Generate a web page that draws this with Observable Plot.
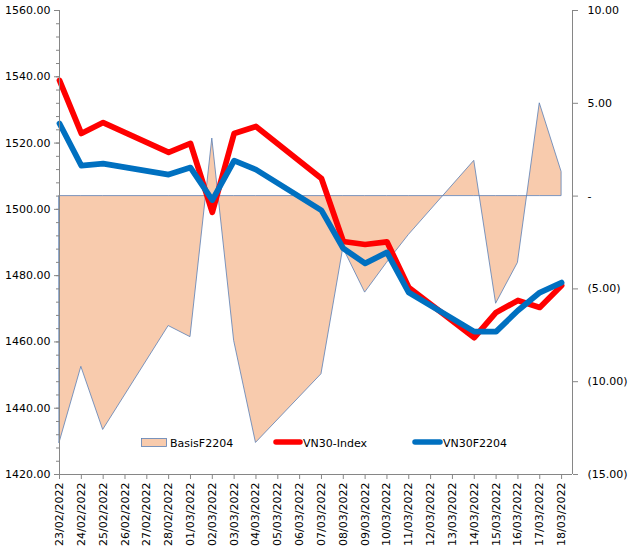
<!DOCTYPE html>
<html>
<head>
<meta charset="utf-8">
<script src="https://cdn.jsdelivr.net/npm/d3@7"></script>
<script src="https://cdn.jsdelivr.net/npm/@observablehq/plot@0.6"></script>
<style>
  html, body { margin: 0; padding: 0; background: #fff; }
  #chart { width: 628px; height: 550px; position: relative; }
</style>
</head>
<body>
<div id="chart"></div>
<script>
// ---- Data ----
const dates = ["2022-02-23","2022-02-24","2022-02-25","2022-02-28","2022-03-01","2022-03-02","2022-03-03","2022-03-04","2022-03-07","2022-03-08","2022-03-09","2022-03-10","2022-03-11","2022-03-14","2022-03-15","2022-03-16","2022-03-17","2022-03-18"];
const vn30Index = [1538.9,1522.9,1526.2,1517.2,1519.9,1499.1,1522.9,1525.0,1509.3,1490.3,1489.4,1490.2,1476.4,1461.3,1468.9,1472.5,1470.4,1477.0];
const vn30F2204 = [1525.9,1513.2,1513.8,1510.5,1512.6,1502.8,1514.7,1512.0,1499.7,1488.2,1483.7,1487.0,1474.9,1463.1,1463.1,1469.5,1474.9,1477.9];
const basisF2204 = [-13.3,-9.2,-12.6,-7.0,-7.6,3.1,-7.8,-13.3,-9.6,-2.8,-5.2,-3.6,-2.1,1.9,-5.8,-3.6,5.0,1.3];

const leftTicks = [1420,1440,1460,1480,1500,1520,1540,1560];
const rightTicks = [-15,-10,-5,0,5,10];
const seriesNames = ["BasisF2204","VN30-Index","VN30F2204"];

// ---- Scales helpers ----
const leftDomain = [1420, 1560];
const rightDomain = [-15, 10];
const toLeft = b => leftDomain[0] + (b - rightDomain[0]) * (leftDomain[1] - leftDomain[0]) / (rightDomain[1] - rightDomain[0]);
const fmtRight = v => v === 0 ? "-" : (v < 0 ? "(" + Math.abs(v).toFixed(2) + ")" : v.toFixed(2));

const parse = d3.utcParse("%Y-%m-%d");
const table = dates.map((d, i) => ({
  date: parse(d),
  idx: vn30Index[i],
  fut: vn30F2204[i],
  basis: basisF2204[i]
}));

const xStart = parse(dates[0]);
const xEnd = new Date(+parse(dates[dates.length - 1]) + 12 * 3600 * 1000);
const dayTicks = d3.utcDay.range(xStart, new Date(+parse(dates[dates.length - 1]) + 86400000));
const minorTicks = d3.range(leftDomain[0], leftDomain[1] + 0.1, 4);
const axisGray = "#868686";

const chart = Plot.plot({
  width: 628,
  height: 550,
  marginLeft: 59,
  marginRight: 56,
  marginTop: 10,
  marginBottom: 76,
  style: { fontFamily: "DejaVu Sans", fontSize: "11px", background: "#fff", color: "#000" },
  x: { type: "utc", domain: [xStart, xEnd] },
  y: { domain: leftDomain },
  marks: [
    Plot.areaY(table, {
      x: "date",
      y1: () => toLeft(0),
      y2: d => toLeft(d.basis),
      fill: "#F8CBAD",
      stroke: "#5A7FB5",
      strokeWidth: 0.8
    }),
    Plot.line(table, { x: "date", y: "idx", stroke: "#FF0000", strokeWidth: 5.75, strokeLinejoin: "round", strokeLinecap: "round" }),
    Plot.line(table, { x: "date", y: "fut", stroke: "#0070C0", strokeWidth: 5.75, strokeLinejoin: "round", strokeLinecap: "round" }),
    // axis lines
    Plot.ruleX([xStart], { stroke: axisGray, strokeWidth: 1 }),
    Plot.ruleX([xEnd], { stroke: axisGray, strokeWidth: 1 }),
    Plot.ruleY([leftDomain[0]], { stroke: axisGray, strokeWidth: 1 }),
    // left axis
    Plot.axisY(minorTicks, { anchor: "left", tickSize: 3, tickFormat: () => "", stroke: axisGray, label: null }),
    Plot.axisY(leftTicks, { anchor: "left", tickSize: 5, tickPadding: 4, tickFormat: d => d.toFixed(2), stroke: axisGray, fill: "#000", label: null }),
    // right axis (basis)
    Plot.axisY(rightTicks.map(toLeft), {
      anchor: "right", tickSize: 5, tickPadding: 10,
      tickFormat: v => fmtRight(Math.round((v - leftDomain[0]) * (rightDomain[1] - rightDomain[0]) / (leftDomain[1] - leftDomain[0]) + rightDomain[0])),
      stroke: axisGray, fill: "#000", label: null
    }),
    // bottom axis
    Plot.axisX(dayTicks, { anchor: "bottom", tickSize: 5, tickPadding: 3, tickRotate: -90, tickFormat: d3.utcFormat("%d/%m/%Y"), stroke: axisGray, fill: "#000", label: null })
  ]
});

document.getElementById("chart").appendChild(chart);

// ---- Legend (inside plot area) ----
const svg = d3.select(chart);
const lg = svg.append("g").attr("font-family", "DejaVu Sans").attr("font-size", 11).attr("text-anchor", "start");
// BasisF2204
lg.append("rect").attr("x", 141.5).attr("y", 438.5).attr("width", 25).attr("height", 8)
  .attr("fill", "#F8CBAD").attr("stroke", "#5A7FB5").attr("stroke-width", 0.8);
lg.append("text").attr("x", 170).attr("y", 446.5).attr("text-anchor", "start").text(seriesNames[0]);
// VN30-Index
lg.append("line").attr("x1", 276).attr("x2", 300).attr("y1", 442).attr("y2", 442)
  .attr("stroke", "#FF0000").attr("stroke-width", 5.5).attr("stroke-linecap", "round");
lg.append("text").attr("x", 303).attr("y", 446.5).attr("text-anchor", "start").text(seriesNames[1]);
// VN30F2204
lg.append("line").attr("x1", 415).attr("x2", 440).attr("y1", 442).attr("y2", 442)
  .attr("stroke", "#0070C0").attr("stroke-width", 5.5).attr("stroke-linecap", "round");
lg.append("text").attr("x", 443).attr("y", 446.5).attr("text-anchor", "start").text(seriesNames[2]);
</script>
</body>
</html>
